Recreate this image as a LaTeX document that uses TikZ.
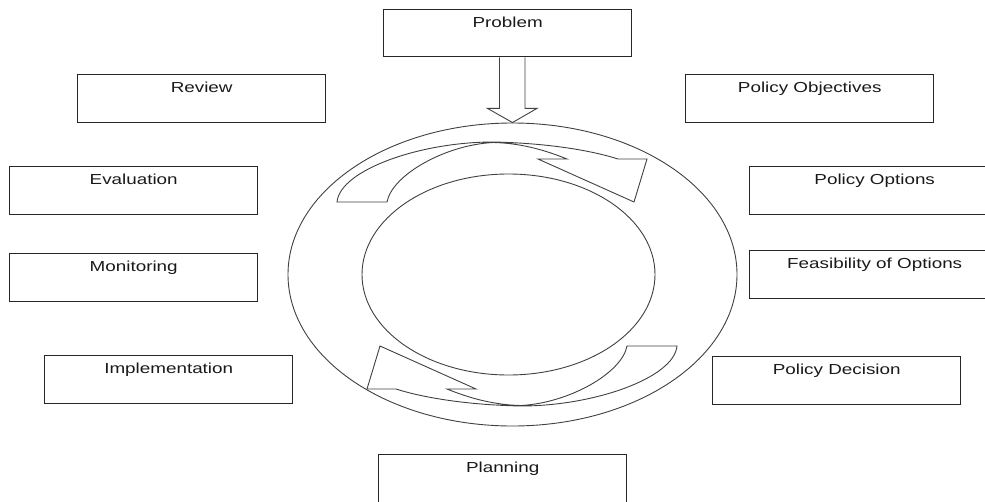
\documentclass[tikz,border=0pt]{standalone}
\usepackage{fontspec}
\setmainfont{Liberation Sans}
\usepackage{graphicx}
\usetikzlibrary{shapes.geometric,calc}
\begin{document}
\begin{tikzpicture}[x=1pt,y=-1pt,
  box/.style={draw=black!85, line width=1.4pt, rectangle, minimum width=248pt,
    minimum height=48pt, anchor=north west, inner sep=0pt,
    label={[anchor=base, yshift=-18pt, inner sep=0pt, text=black!90,
      font=\fontsize{14.5}{17}\selectfont]north:{\scalebox{1.3}[1]{#1}}}},
  ring/.style={draw=black!75, line width=0.9pt, line join=miter},
]
\useasboundingbox (0,0) rectangle (985,501);

% boxes
\node[box=Problem, minimum height=47pt] (prob) at (383,9) {};
\node[box=Review] (rev) at (77,74) {};
\node[box=Evaluation] (eval) at (9,166) {};
\node[box=Monitoring] (mon) at (9,253) {};
\node[box=Implementation] (impl) at (44,355) {};
\node[box=Policy Objectives] (pobj) at (685,74) {};
\node[box=Policy Options, minimum width=250pt] (popt) at (749,166) {};
\node[box=Feasibility of Options, minimum width=250pt] (feas) at (749,250) {};
\node[box=Policy Decision] (pdec) at (712,356) {};
\node[box=Planning] (plan) at (378,454) {};

% rings
\node[ellipse, ring, minimum width=449pt, minimum height=303pt, inner sep=0pt] (outer) at (512.5,274.5) {};
\node[ellipse, ring, minimum width=293pt, minimum height=201pt, inner sep=0pt] (inner) at (508.5,274.5) {};

% block arrow from Problem to the ring
\coordinate (pa) at (prob.south -| outer.north);
\draw[ring] ($(pa)+(-13,0)$) -- ++(0,51) -- ++(-12,0) -- (outer.north)
  -- ($(pa)+(24.5,51)$) -- ++(-12,0) -- ($(pa)+(12.5,0)$);

% curved arrow, top
\draw[ring] (337,202) .. controls (340,170) and (420,142) .. (493,142)
  .. controls (545,143) and (590,150) .. (618,159) -- (647,159) -- (634,202)
  -- (538,159) -- (567,159) .. controls (545,150) and (520,143) .. (493,142.5)
  .. controls (445,145) and (392,175) .. (387,202) -- cycle;

% curved arrow, bottom
\begin{scope}[rotate around={180:(507,274)}]
\draw[ring] (337,202) .. controls (340,170) and (420,142) .. (493,142)
  .. controls (545,143) and (590,150) .. (618,159) -- (647,159) -- (634,202)
  -- (538,159) -- (567,159) .. controls (545,150) and (520,143) .. (493,142.5)
  .. controls (445,145) and (392,175) .. (387,202) -- cycle;
\end{scope}
\end{tikzpicture}
\end{document}
